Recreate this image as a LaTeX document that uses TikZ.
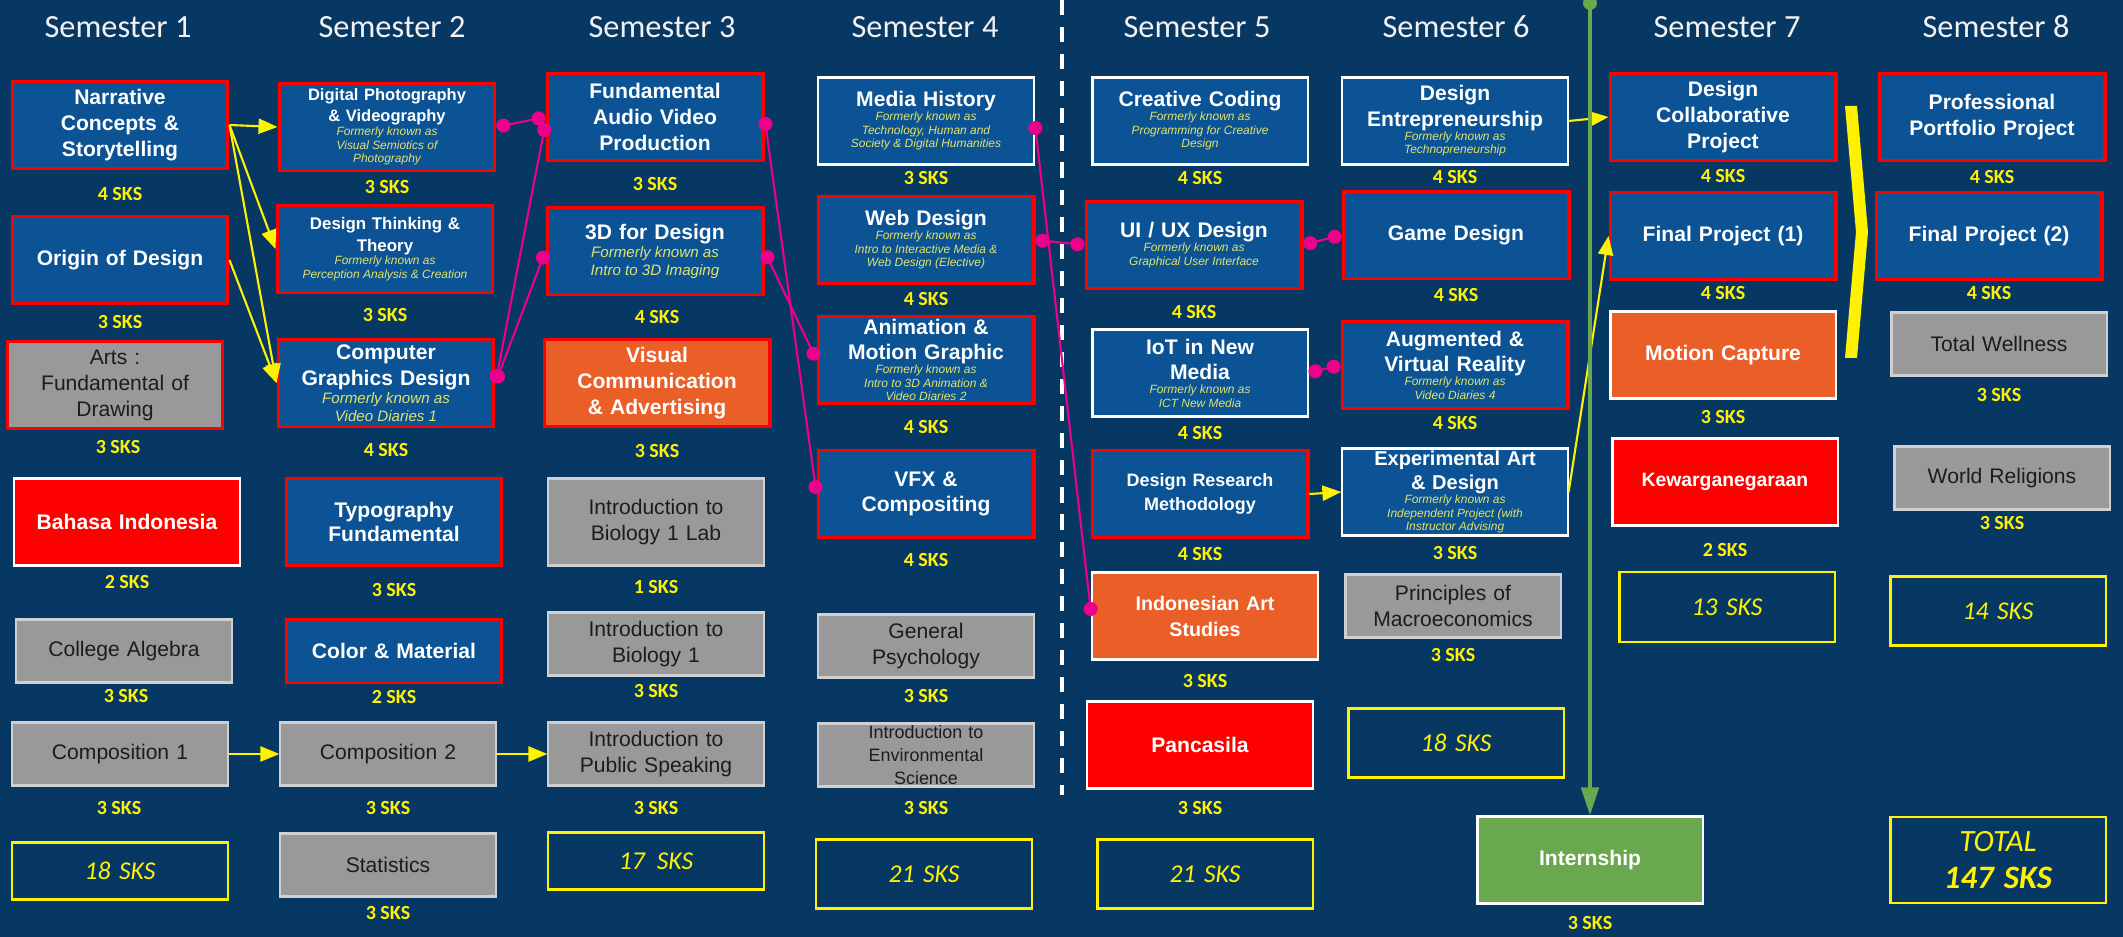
\documentclass[tikz,border=0pt]{standalone}
\usepackage{fontspec}
\setmainfont{Liberation Sans}
\newfontfamily\carl{Carlito}
\usepackage{tikz}
\usetikzlibrary{arrows.meta,calc}
\definecolor{bg}{HTML}{073763}
\definecolor{boxblue}{HTML}{0B5394}
\definecolor{boxgray}{HTML}{999999}
\definecolor{boxorange}{HTML}{EA5E28}
\definecolor{boxgreen}{HTML}{6AA84F}
\definecolor{fkacol}{HTML}{E2E36B}
\definecolor{hdrcol}{HTML}{F2F2F2}
\definecolor{lightline}{HTML}{D0D0D0}
\definecolor{graytext}{HTML}{1C1C1C}

\newcommand{\fka}[1]{{\fontsize{3.4}{3.9}\selectfont\spaceskip=.278em\mdseries\itshape\color{fkacol}#1\par}}
\newcommand{\fkb}[1]{{\fontsize{4.3}{5.1}\selectfont\spaceskip=.278em\mdseries\itshape\color{fkacol}#1\par}}

\begin{document}
\begin{tikzpicture}[x=0.01cm, y=-0.01cm,
	box/.style={minimum width=2.15cm, minimum height=0.87cm, text width=2.07cm, inner sep=0pt, align=center, font=\fontsize{6}{7.3}\selectfont\bfseries},
	low/.style={minimum height=0.63cm},
	wide/.style={minimum width=2.25cm, text width=2.17cm},
	core/.style={box, fill=boxblue, draw=red, line width=1.1pt, text=white},
	plain/.style={box, draw=white, line width=0.6pt, text=white},
	elect/.style={plain, fill=boxblue},
	artbox/.style={plain, fill=boxorange},
	natl/.style={plain, fill=red},
	gen/.style={box, fill=boxgray, draw=lightline, line width=0.6pt, text=graytext, font=\fontsize{6}{7.4}\selectfont},
	gencore/.style={gen, draw=red, line width=1.1pt},
	totbox/.style={draw=yellow, line width=0.6pt, minimum width=2.15cm, minimum height=0.69cm, text width=2.07cm, inner sep=0pt, align=center, text=yellow, font=\carl\itshape\fontsize{7.3}{9}\selectfont},
	sks/.style={text=yellow, inner sep=0pt, font=\carl\bfseries\fontsize{5.7}{7}\selectfont},
	hdr/.style={text=hdrcol, inner sep=0pt, font=\carl\fontsize{9.2}{11}\selectfont},
	link/.style={draw=yellow, line width=0.6pt, -{Triangle[length=5.4pt, width=4.3pt]}},
	pre/.style={draw=magenta, line width=0.6pt, {Circle[length=4pt]}-{Circle[length=4pt]}}]
	\useasboundingbox[fill=bg] (0,0) rectangle (2123,937);

	% Semester 1
	\node[hdr] (hdr1) at (118,27) {Semester 1};
	\node[core] (narr) at (120,125) {Narrative\\ Concepts \&\\ Storytelling};
	\node[sks] (narr-s) at (120,194) {4 SKS};
	\node[core] (origin) at (120,260) {Origin of Design};
	\node[sks] (origin-s) at (120,322) {3 SKS};
	\node[gencore] (arts) at (115,385) {Arts :\\ Fundamental of\\ Drawing};
	\node[sks] (arts-s) at (118,447) {3 SKS};
	\node[natl, wide] (bahasa) at (127,522) {Bahasa Indonesia};
	\node[sks] (bahasa-s) at (127,582) {2 SKS};
	\node[gen, low] (algebra) at (124,651) {College Algebra};
	\node[sks] (algebra-s) at (126,696) {3 SKS};
	\node[gen, low] (comp1) at (120,754) {Composition 1};
	\node[sks] (comp1-s) at (119,808) {3 SKS};
	\node[totbox, minimum height=0.57cm] (tot1) at (120,871) {18 SKS};

	% Semester 2
	\node[hdr] (hdr2) at (392,27) {Semester 2};
	\node[core, font=\fontsize{4.7}{6}\selectfont\bfseries] (digphoto) at (387,127) {Digital Photography\\ \& Videography\par\fka{Formerly known as\\ Visual Semiotics of\\ Photography}};
	\node[sks] (digphoto-s) at (387,187) {3 SKS};
	\node[core, font=\fontsize{4.8}{6.3}\selectfont\bfseries] (dthink) at (385,249) {Design Thinking \&\\ Theory\par\fka{Formerly known as\\ Perception Analysis \& Creation}};
	\node[sks] (dthink-s) at (385,315) {3 SKS};
	\node[core] (cgd) at (386,383) {Computer\\ Graphics Design\par\fkb{Formerly known as\\ Video Diaries 1}};
	\node[sks] (cgd-s) at (386,450) {4 SKS};
	\node[core, font=\fontsize{6}{6.6}\selectfont\bfseries] (typo) at (394,522) {Typography\\ Fundamental};
	\node[sks] (typo-s) at (394,590) {3 SKS};
	\node[core, low] (color) at (394,651) {Color \& Material};
	\node[sks] (color-s) at (394,697) {2 SKS};
	\node[gen, low] (comp2) at (388,754) {Composition 2};
	\node[sks] (comp2-s) at (388,808) {3 SKS};
	\node[gen, low] (stats) at (388,865) {Statistics};
	\node[sks] (stats-s) at (388,913) {3 SKS};

	% Semester 3
	\node[hdr] (hdr3) at (662,27) {Semester 3};
	\node[core] (fav) at (655,117) {Fundamental\\ Audio Video\\ Production};
	\node[sks] (fav-s) at (655,184) {3 SKS};
	\node[core] (d3) at (655,251) {3D for Design\par\fkb{Formerly known as\\ Intro to 3D Imaging}};
	\node[sks] (d3-s) at (657,317) {4 SKS};
	\node[artbox, wide, draw=red, line width=1.1pt] (viscom) at (657,383) {Visual\\ Communication\\ \& Advertising};
	\node[sks] (viscom-s) at (657,451) {3 SKS};
	\node[gen] (bio1lab) at (656,522) {Introduction to\\ Biology 1 Lab};
	\node[sks] (bio1lab-s) at (656,587) {1 SKS};
	\node[gen, low] (bio1) at (656,644) {Introduction to\\ Biology 1};
	\node[sks] (bio1-s) at (656,691) {3 SKS};
	\node[gen, low] (speak) at (656,754) {Introduction to\\ Public Speaking};
	\node[sks] (speak-s) at (656,808) {3 SKS};
	\node[totbox, minimum height=0.57cm] (tot3) at (656,861) {17\kern1pt\ SKS};

	% Semester 4
	\node[hdr] (hdr4) at (925,27) {Semester 4};
	\node[elect] (media) at (926,121) {Media History\par\fka{Formerly known as\\ Technology, Human and\\ Society \& Digital Humanities}};
	\node[sks] (media-s) at (926,178) {3 SKS};
	\node[core] (web) at (926,240) {Web Design\par\fka{Formerly known as\\ Intro to Interactive Media \&\\ Web Design (Elective)}};
	\node[sks] (web-s) at (926,299) {4 SKS};
	\node[core] (anim) at (926,360) {Animation \&\\ Motion Graphic\par\fka{Formerly known as\\ Intro to 3D Animation \&\\ Video Diaries 2}};
	\node[sks] (anim-s) at (926,427) {4 SKS};
	\node[core] (vfx) at (926,494) {VFX \&\\ Compositing};
	\node[sks] (vfx-s) at (926,560) {4 SKS};
	\node[gen, low] (genpsy) at (926,646) {General\\ Psychology};
	\node[sks] (genpsy-s) at (926,696) {3 SKS};
	\node[gen, low, font=\fontsize{5.1}{6.6}\selectfont] (envsci) at (926,755) {Introduction to\\ Environmental\\ Science};
	\node[sks] (envsci-s) at (926,808) {3 SKS};
	\node[totbox] (tot4) at (924,874) {21 SKS};

	\draw[white, line width=1.1pt, dash pattern=on 4.3pt off 3.4pt] (1062,0) -- (1062,795);

	% Semester 5
	\node[hdr] (hdr5) at (1197,27) {Semester 5};
	\node[elect] (cc) at (1200,121) {Creative Coding\par\fka{Formerly known as\\ Programming for Creative\\ Design}};
	\node[sks] (cc-s) at (1200,178) {4 SKS};
	\node[core] (uiux) at (1194,245) {UI / UX Design\par\fka{Formerly known as\\ Graphical User Interface}};
	\node[sks] (uiux-s) at (1194,312) {4 SKS};
	\node[elect] (iot) at (1200,373) {IoT in New\\ Media\par\fka{Formerly known as\\ ICT New Media}};
	\node[sks] (iot-s) at (1200,433) {4 SKS};
	\node[core, font=\fontsize{5.1}{6.6}\selectfont\bfseries] (drm) at (1200,494) {Design Research\\ Methodology};
	\node[sks] (drm-s) at (1200,554) {4 SKS};
	\node[artbox, wide, font=\fontsize{5.6}{7.4}\selectfont\bfseries] (ias) at (1205,616) {Indonesian Art\\ Studies};
	\node[sks] (ias-s) at (1205,681) {3 SKS};
	\node[natl, wide] (panc) at (1200,745) {Pancasila};
	\node[sks] (panc-s) at (1200,808) {3 SKS};
	\node[totbox] (tot5) at (1205,874) {21 SKS};

	% Semester 6
	\node[hdr] (hdr6) at (1456,27) {Semester 6};
	\node[elect, wide] (dent) at (1455,121) {Design\\ Entrepreneurship\par\fka{Formerly known as\\ Technopreneurship}};
	\node[sks] (dent-s) at (1455,177) {4 SKS};
	\node[core, wide] (game) at (1456,235) {Game Design};
	\node[sks] (game-s) at (1456,295) {4 SKS};
	\node[core, wide] (arvr) at (1455,365) {Augmented \&\\ Virtual Reality\par\fka{Formerly known as\\ Video Diaries 4}};
	\node[sks] (arvr-s) at (1455,423) {4 SKS};
	\node[elect, wide, font=\fontsize{5.7}{7}\selectfont\bfseries] (expart) at (1455,492) {Experimental Art\\ \& Design\par\fka{Formerly known as\\ Independent Project (with\\ Instructor Advising}};
	\node[sks] (expart-s) at (1455,553) {3 SKS};
	\node[gen, low] (macro) at (1453,606) {Principles of\\ Macroeconomics};
	\node[sks] (macro-s) at (1453,655) {3 SKS};
	\node[totbox] (tot6) at (1456,743) {18 SKS};
	\node[plain, wide, fill=boxgreen] (intern) at (1590,860) {Internship};
	\node[sks] (intern-s) at (1590,923) {3 SKS};

	% Semester 7
	\node[hdr] (hdr7) at (1727,27) {Semester 7};
	\node[core, wide] (dcp) at (1723,117) {Design\\ Collaborative\\ Project};
	\node[sks] (dcp-s) at (1723,176) {4 SKS};
	\node[core, wide] (fp1) at (1723,236) {Final Project (1)};
	\node[sks] (fp1-s) at (1723,293) {4 SKS};
	\node[artbox, wide] (mocap) at (1723,355) {Motion Capture};
	\node[sks] (mocap-s) at (1723,417) {3 SKS};
	\node[natl, wide, font=\fontsize{5.5}{7}\selectfont\bfseries] (kewar) at (1725,482) {Kewarganegaraan};
	\node[sks] (kewar-s) at (1725,550) {2 SKS};
	\node[totbox, minimum height=0.7cm] (tot7) at (1727,607) {13 SKS};

	% Semester 8
	\node[hdr] (hdr8) at (1996,27) {Semester 8};
	\node[core, wide] (ppp) at (1992,117) {Professional\\ Portfolio Project};
	\node[sks] (ppp-s) at (1992,177) {4 SKS};
	\node[core, wide] (fp2) at (1989,236) {Final Project (2)};
	\node[sks] (fp2-s) at (1989,293) {4 SKS};
	\node[gen, low] (wellness) at (1999,344) {Total Wellness};
	\node[sks] (wellness-s) at (1999,395) {3 SKS};
	\node[gen, low] (worldrel) at (2002,478) {World Religions};
	\node[sks] (worldrel-s) at (2002,523) {3 SKS};
	\node[totbox] (tot8) at (1998,611) {14 SKS};
	\node[totbox, minimum height=0.86cm, font=\carl\itshape\fontsize{8.8}{10.4}\selectfont] (total) at (1998,860) {TOTAL\\ {\bfseries\fontsize{9.3}{10.4}\selectfont 147 SKS}};

	% prerequisites
	\draw[link] (narr.east) -- (digphoto.west);
	\draw[link] (narr.east) -- (dthink.west);
	\draw[link] (narr.east) -- (cgd.west);
	\draw[link] (origin.east) -- (cgd.west);
	\draw[link] (comp1) -- (comp2);
	\draw[link] (comp2) -- (speak);
	\draw[link] (drm.east) -- (expart.west);
	\draw[link] (dent.east) -- (dcp.west);
	\draw[link] (expart.east) -- (fp1.west);
%	\draw[link] (fp1.east) -- (fp2.west);
	\fill[yellow] (1845,106) -- (1857,106) -- (1868,232) -- (1857,358) -- (1845,358) -- (1856,232) -- cycle;

	\draw[pre] (digphoto.east) -- (fav.west);
	\draw[pre] (cgd.east) -- ($(fav.west)+(0,6)$);
	\draw[pre] (cgd.east) -- (d3.west);
	\draw[pre] (fav.east) -- (vfx.west);
	\draw[pre] (d3.east) -- (anim.west);
	\draw[pre] (media.east) -- (ias.west);
	\draw[pre] (web.east) -- (uiux.west);
	\draw[pre] (uiux.east) -- (game.west);
	\draw[pre] (iot.east) -- (arvr.west);

	\coordinate (gtop) at (1590,3);
	\draw[boxgreen, line width=1pt, -{Triangle[length=8pt, width=5pt]}] (gtop) -- (intern.north);
	\fill[boxgreen] (gtop) circle (7);
\end{tikzpicture}
\end{document}
